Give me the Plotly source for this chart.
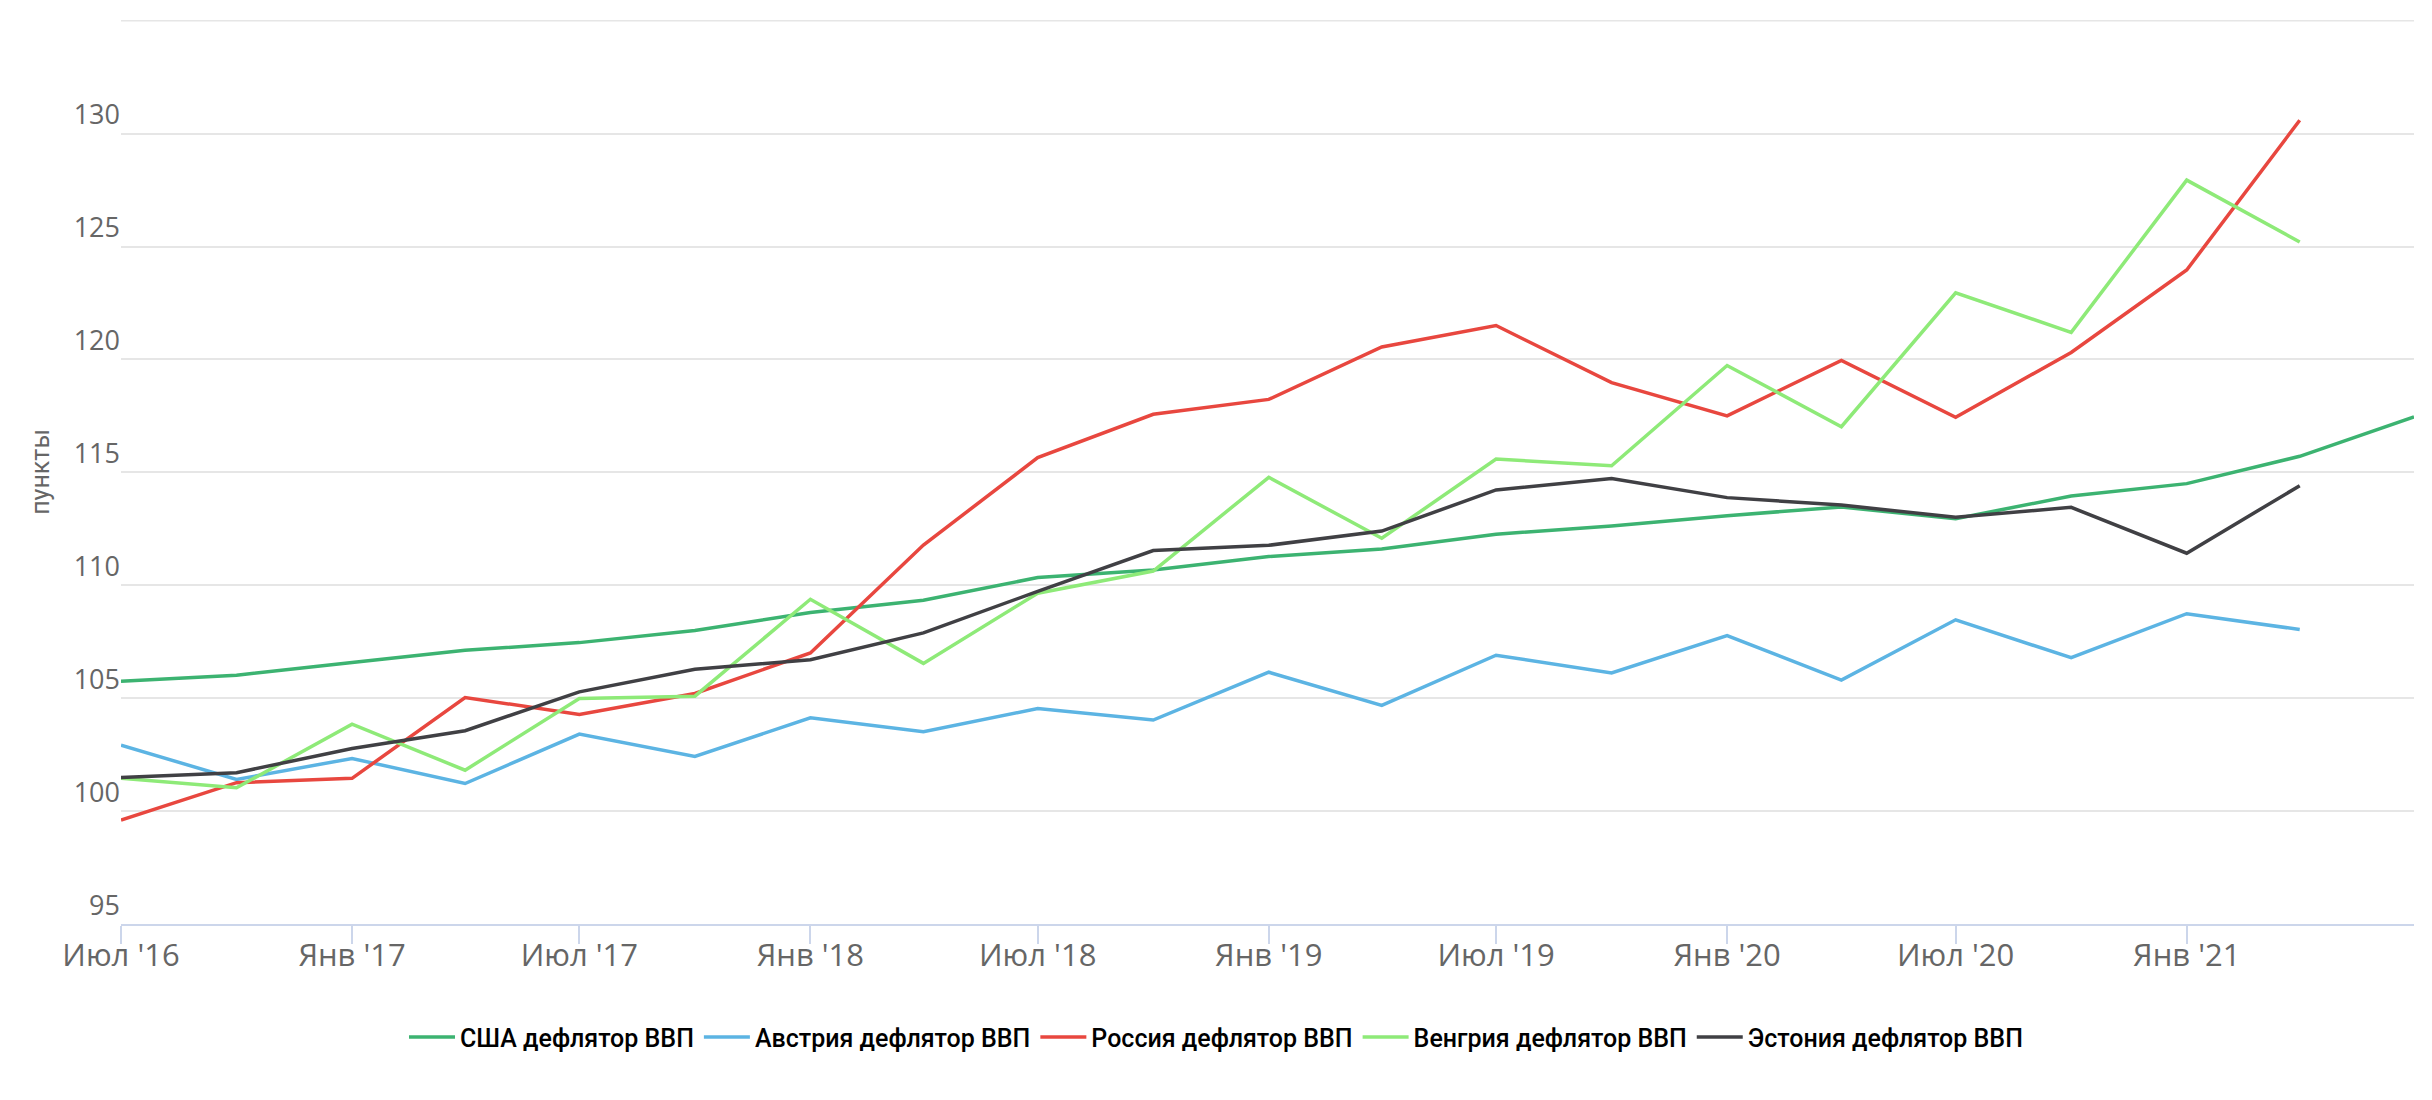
import plotly.graph_objects as go

dates = ["2016-07-01", "2016-10-01", "2017-01-01", "2017-04-01", "2017-07-01", "2017-10-01",
         "2018-01-01", "2018-04-01", "2018-07-01", "2018-10-01", "2019-01-01", "2019-04-01",
         "2019-07-01", "2019-10-01", "2020-01-01", "2020-04-01", "2020-07-01", "2020-10-01",
         "2021-01-01", "2021-04-01", "2021-07-01"]

usa = [105.75, 106.02, 106.58, 107.12, 107.46, 108.0, 108.79, 109.34, 110.34, 110.68, 111.27,
       111.61, 112.26, 112.62, 113.08, 113.47, 112.95, 113.95, 114.5, 115.71, 117.46]
austria = [102.92, 101.4, 102.33, 101.22, 103.41, 102.42, 104.13, 103.51, 104.54, 104.03, 106.15,
           104.68, 106.9, 106.12, 107.77, 105.8, 108.47, 106.79, 108.74, 108.04]
russia = [99.6, 101.26, 101.45, 105.03, 104.28, 105.21, 107.0, 111.78, 115.65, 117.57, 118.23,
          120.55, 121.5, 118.97, 117.5, 119.96, 117.44, 120.31, 123.96, 130.59]
hungary = [101.45, 101.03, 103.85, 101.81, 104.99, 105.09, 109.38, 106.54, 109.65, 110.63, 114.78,
           112.08, 115.59, 115.29, 119.73, 117.02, 122.95, 121.2, 127.94, 125.2]
estonia = [101.49, 101.70, 102.77, 103.56, 105.28, 106.28, 106.70, 107.89, 109.73, 111.54, 111.77,
           112.40, 114.22, 114.73, 113.88, 113.55, 113.01, 113.45, 111.42, 114.41]

series_names = ["США дефлятор ВВП", "Австрия дефлятор ВВП", "Россия дефлятор ВВП",
                "Венгрия дефлятор ВВП", "Эстония дефлятор ВВП"]
series_values = [usa, austria, russia, hungary, estonia]
series_colors = ["#3cb371", "#5cb4e3", "#e8473f", "#8eea78", "#404044"]

x_tickvals = ["2016-07-01", "2017-01-01", "2017-07-01", "2018-01-01", "2018-07-01",
              "2019-01-01", "2019-07-01", "2020-01-01", "2020-07-01", "2021-01-01"]
x_ticktext = ["Июл '16", "Янв '17", "Июл '17", "Янв '18", "Июл '18",
              "Янв '19", "Июл '19", "Янв '20", "Июл '20", "Янв '21"]
y_tickvals = [95, 100, 105, 110, 115, 120, 125, 130, 135]
y_ticktext = ["95", "100", "105", "110", "115", "120", "125", "130", ""]
y_top = 135

fig = go.Figure()
for name, vals, col in zip(series_names, series_values, series_colors):
    fig.add_trace(go.Scatter(
        x=dates[:len(vals)], y=vals, name=name, mode="lines",
        line=dict(color=col, width=3.5),
    ))

# top gridline (Plotly skips the gridline that sits on the range edge)
fig.add_shape(type="line", xref="paper", x0=0, x1=1, yref="y", y0=y_top, y1=y_top,
              line=dict(color="#e6e6e6", width=1.5), layer="below")

fig.update_layout(
    width=2432, height=1100,
    paper_bgcolor="white", plot_bgcolor="white",
    margin=dict(l=121, r=18, t=20, b=176),
    showlegend=True,
    legend=dict(
        orientation="h", xref="container", x=0.5, xanchor="center",
        yref="container", y=0.057, yanchor="middle",
        font=dict(family="Roboto", size=25, color="#000000", weight=500),
        itemwidth=46, tracegroupgap=0,
    ),
    xaxis=dict(
        type="date", range=["2016-07-01", "2021-07-01"],
        tickvals=x_tickvals, ticktext=x_ticktext,
        showgrid=False, zeroline=False, automargin=False,
        showline=True, linecolor="#ccd6eb", linewidth=2,
        ticks="outside", ticklen=18, tickcolor="#ccd6eb", tickwidth=1.5,
        ticklabelstandoff=-15,
        tickfont=dict(family="Open Sans", size=31, color="#666666"),
    ),
    yaxis=dict(
        range=[95, 135.03], tickvals=y_tickvals, ticktext=y_ticktext,
        showgrid=True, gridcolor="#e6e6e6", gridwidth=1.5,
        zeroline=False, showline=False, ticks="", automargin=False,
        ticklabelposition="outside top",
        tickfont=dict(family="Open Sans", size=27, color="#666666"),
        title=dict(text="пункты", font=dict(family="Roboto", size=25, color="#666666"), standoff=16),
    ),
)

fig.write_html("out.html", config={"displayModeBar": False},
               post_script="document.body.style.margin='0';")
